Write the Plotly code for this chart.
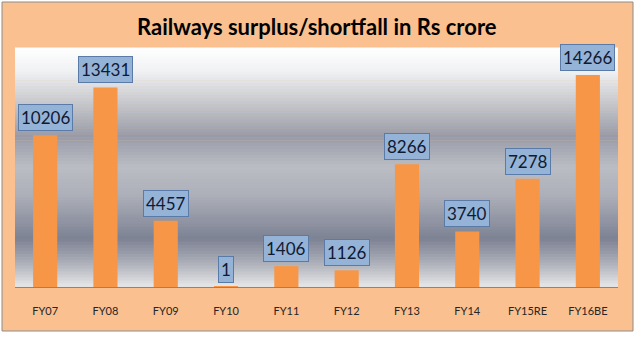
import plotly.graph_objects as go

categories = ["FY07", "FY08", "FY09", "FY10", "FY11", "FY12", "FY13", "FY14", "FY15RE", "FY16BE"]
values = [10206, 13431, 4457, 1, 1406, 1126, 8266, 3740, 7278, 14266]
title_text = "Railways surplus/shortfall in Rs crore"

# plot area geometry in pixels (for decoration placement)
L, R, T, B = 15, 618, 48, 287
W, H = R - L, B - T

def px_x(p):
    return (p - L) / W

def px_y(p):
    return (B - p) / H

fig = go.Figure()
fig.add_trace(go.Bar(
    x=categories, y=values,
    marker=dict(color="#F79646", line=dict(width=0)),
    hoverinfo="x+y",
))

shapes = []
# outer orange chart area
shapes.append(dict(type="rect", xref="paper", yref="paper",
                   x0=px_x(2), x1=px_x(633), y0=px_y(331), y1=px_y(2),
                   fillcolor="#FAC090", line=dict(color="#8C8C8C", width=1), layer="below"))

# gradient background of plot area
stops = [
    (0.00, (255, 255, 255)),
    (0.10, (240, 241, 243)),
    (0.25, (192, 194, 200)),
    (0.37, (152, 155, 167)),
    (0.50, (187, 189, 196)),
    (0.62, (172, 175, 184)),
    (0.80, (125, 130, 148)),
    (0.90, (172, 175, 184)),
    (1.00, (230, 230, 232)),
]

def col_at(t):
    for i in range(len(stops) - 1):
        a, ca = stops[i]
        b, cb = stops[i + 1]
        if a <= t <= b:
            f = (t - a) / (b - a) if b > a else 0
            c = tuple(round(ca[k] + (cb[k] - ca[k]) * f) for k in range(3))
            return "rgb(%d,%d,%d)" % c
    return "rgb(230,230,232)"

N = 80
for i in range(N):
    t0 = i / N
    t1 = (i + 1) / N
    shapes.append(dict(type="rect", xref="paper", yref="paper",
                       x0=0, x1=1, y0=1 - t1, y1=1 - t0 + 0.002,
                       fillcolor=col_at((t0 + t1) / 2), line=dict(width=0), layer="below"))

annotations = []
for c, v in zip(categories, values):
    annotations.append(dict(
        x=c, y=v, xref="x", yref="y", text=str(v), showarrow=False,
        yanchor="bottom", yshift=4,
        font=dict(family="Lato, Open Sans, sans-serif", size=17, color="#0F1A33"),
        bgcolor="#95B3D7", bordercolor="#5A7BA8", borderwidth=1, borderpad=2,
    ))

annotations.append(dict(
    x=px_x(317), y=px_y(26), xref="paper", yref="paper", text="<b>" + title_text + "</b>",
    showarrow=False, xanchor="center", yanchor="middle",
    font=dict(family="Lato, Open Sans, sans-serif", size=22, color="#000000"),
))

fig.update_layout(
    width=640, height=360,
    margin=dict(l=L, r=640 - R, t=T, b=360 - B, pad=0),
    paper_bgcolor="#FFFFFF",
    plot_bgcolor="rgba(0,0,0,0)",
    shapes=shapes,
    annotations=annotations,
    showlegend=False,
    bargap=0.6,
    xaxis=dict(
        showgrid=False, showline=True, linecolor="#868686", linewidth=1,
        ticks="", ticklabelstandoff=14,
        tickfont=dict(family="Lato, Open Sans, sans-serif", size=11, color="#262626"),
    ),
    yaxis=dict(range=[0, 16084], visible=False, showgrid=False, zeroline=False),
)

fig.write_html("out.html")
